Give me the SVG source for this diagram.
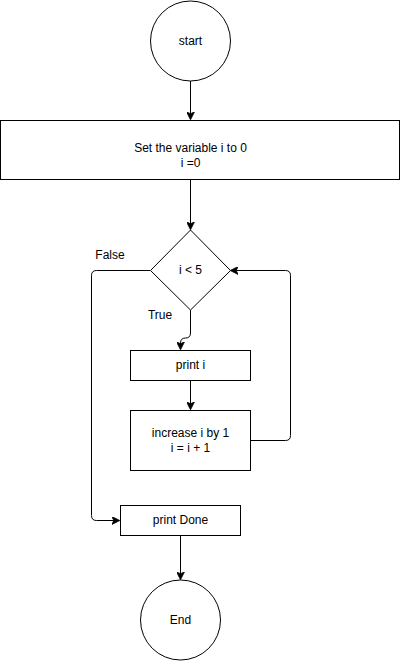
<svg xmlns="http://www.w3.org/2000/svg" width="401" height="661" viewBox="0 0 401 661">
<style>
.s{fill:#fff;stroke:#000;stroke-width:1}
.e{fill:none;stroke:#000;stroke-width:1}
text{font-family:"Liberation Sans",Arial,sans-serif;font-size:12px;fill:#000;text-anchor:middle;dominant-baseline:central}
</style>
<defs>
<marker id="a" viewBox="0 0 10 10" refX="9" refY="5" markerWidth="8" markerHeight="8" markerUnits="userSpaceOnUse" orient="auto">
<path d="M0,0 L10,5 L0,10 L2.5,5 Z" fill="#000" stroke="#000" stroke-width="1"/>
</marker>
</defs>
<rect width="401" height="661" fill="#fff"/>
<g id="edges">
<path class="e" d="M190.5,81 V119" marker-end="url(#a)"/>
<path class="e" d="M190.5,180 V229" marker-end="url(#a)"/>
<path class="e" d="M190.5,310 V333 Q190.5,338 185.5,338 Q180.5,338 180.5,343 V349" marker-end="url(#a)"/>
<path class="e" d="M190.5,380 V409" marker-end="url(#a)"/>
<path class="e" d="M250,440.5 H285.5 Q290.5,440.5 290.5,435.5 V275.5 Q290.5,270.5 285.5,270.5 H231" marker-end="url(#a)"/>
<path class="e" d="M150,270.5 H96.5 Q91.5,270.5 91.5,275.5 V515.5 Q91.5,520.5 96.5,520.5 H119" marker-end="url(#a)"/>
<path class="e" d="M180.5,535 V579" marker-end="url(#a)"/>
<text x="110" y="255">False</text>
<text x="160" y="315">True</text>
</g>
<g id="start"><circle class="s" cx="190.5" cy="41" r="40"/><text x="190.5" y="41">start</text></g>
<g id="init"><rect class="s" x="0.5" y="120.5" width="399" height="59"/><text x="190.5" y="148">Set the variable i to 0</text><text x="190.5" y="163">i =0</text></g>
<g id="cond"><path class="s" d="M190.5,230 L230.5,270.5 L190.5,310 L150.5,270.5 Z"/><text x="190.5" y="270">i &lt; 5</text></g>
<g id="print"><rect class="s" x="130.5" y="350.5" width="120" height="30"/><text x="190.5" y="365">print i</text></g>
<g id="inc"><rect class="s" x="130.5" y="410.5" width="120" height="60"/><text x="190.5" y="433">increase i by 1</text><text x="190.5" y="448">i = i + 1</text></g>
<g id="done"><rect class="s" x="120.5" y="505.5" width="120" height="30"/><text x="180.5" y="520">print Done</text></g>
<g id="end"><circle class="s" cx="180.5" cy="620" r="40"/><text x="180.5" y="620">End</text></g>
</svg>
